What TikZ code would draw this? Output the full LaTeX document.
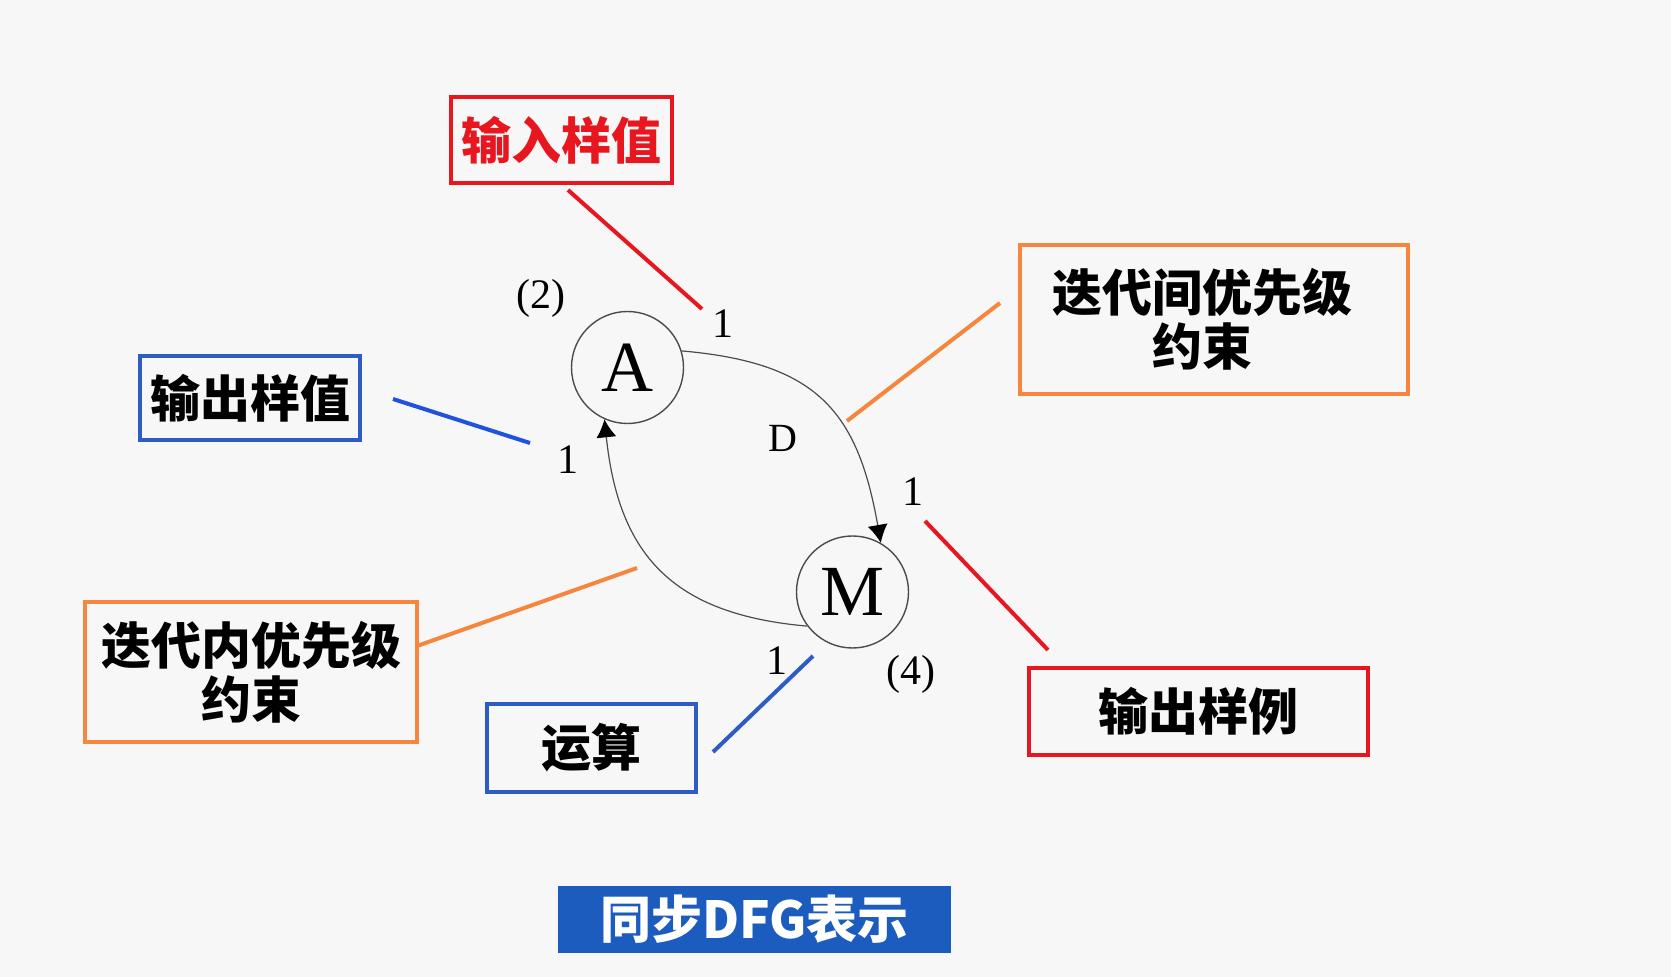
\documentclass[tikz,border=0pt]{standalone}
\usepackage{fontspec}
\setmainfont{Liberation Serif}
\newfontfamily\cjk{Noto Sans CJK SC}
\usetikzlibrary{arrows.meta}
\definecolor{bgfill}{RGB}{247,247,247}
\definecolor{boxred}{RGB}{232,22,30}
\definecolor{boxblue}{RGB}{44,92,196}
\definecolor{lineblue}{RGB}{32,82,222}
\definecolor{boxorange}{RGB}{246,134,62}
\definecolor{titleblue}{RGB}{28,92,190}

\begin{document}
\begin{tikzpicture}[x=0.5pt,y=0.5pt,
  labelbox/.style={draw,line width=1.6pt,inner sep=0pt,align=center,
    font=\fontsize{25}{27}\cjk\bfseries},
  dfgnode/.style={circle,draw=black!70,line width=0.7pt,minimum size=56pt,
    inner sep=0pt,font=\fontsize{36}{36}\selectfont},
  wt/.style={font=\fontsize{21}{21}\selectfont},
  callout/.style={line width=2pt},
  dfgedge/.style={draw=black!70,line width=0.6pt,-{Latex[length=9pt,width=10pt,black]}}]
\fill[bgfill] (0,0) rectangle (1671,-977);
\useasboundingbox (0,0) rectangle (1671,-977);
% DFG nodes
\node[dfgnode] (A) at (627.5,-367.5) {A};
\node[dfgnode] (M) at (852.5,-592) {M};
\draw[dfgedge] (A.17) to[out=-5,in=100,looseness=1.25] (M.60);
\draw[dfgedge] (M.217) to[out=175,in=-84,looseness=1.2] (A.246);
% weights and delay
\node[wt] (tA) at (541,-298) {(2)};
\node[wt] (tM) at (911,-674) {(4)};
\node[wt] (w1) at (723,-324) {1};
\node[wt] (w2) at (568,-460) {1};
\node[wt] (w3) at (913,-492) {1};
\node[wt] (w4) at (777,-661) {1};
\node[font=\fontsize{20}{20}\selectfont] (dl) at (783,-438) {D};
% label boxes
\node[labelbox,draw=boxred,text=boxred,minimum width=110.5pt,minimum height=43pt]
  (inp) at (561.5,-140) {输入样值};
\node[labelbox,draw=boxblue,minimum width=110pt,minimum height=42pt]
  (outv) at (250,-398) {输出样值};
\node[labelbox,draw=boxorange,minimum width=194pt,minimum height=74.5pt]
  (inter) at (1214,-319.5) {迭代间优先级\hspace*{12pt}\\约束\hspace*{12pt}};
\node[labelbox,draw=boxorange,minimum width=166pt,minimum height=70pt]
  (intra) at (251,-672) {迭代内优先级\\约束};
\node[labelbox,draw=boxred,minimum width=169.5pt,minimum height=43.5pt]
  (outs) at (1198.5,-711.5) {输出样例};
\node[labelbox,draw=boxblue,minimum width=104.5pt,minimum height=44pt]
  (op) at (591.5,-748) {运算};
\node[labelbox,draw=none,fill=titleblue,text=white,minimum width=196.5pt,minimum height=33.5pt,
  font=\fontsize{25.5}{25.5}\cjk\bfseries] (title) at (754.5,-919.5) {同步DFG表示};
% callout lines
\coordinate (c1a) at (568,-190);  \coordinate (c1b) at (702,-309);
\coordinate (c2a) at (393,-399);  \coordinate (c2b) at (530,-443);
\coordinate (c3a) at (1000,-303); \coordinate (c3b) at (847,-421);
\coordinate (c4a) at (925,-521);  \coordinate (c4b) at (1048,-650);
\coordinate (c5a) at (417,-646);  \coordinate (c5b) at (637,-568);
\coordinate (c6a) at (713,-752);  \coordinate (c6b) at (813,-656);
\draw[callout,boxred] (c1a) -- (c1b);
\draw[callout,lineblue] (c2a) -- (c2b);
\draw[callout,boxorange] (c3a) -- (c3b);
\draw[callout,boxred] (c4a) -- (c4b);
\draw[callout,boxorange] (c5a) -- (c5b);
\draw[callout,boxblue] (c6a) -- (c6b);
\end{tikzpicture}
\end{document}
